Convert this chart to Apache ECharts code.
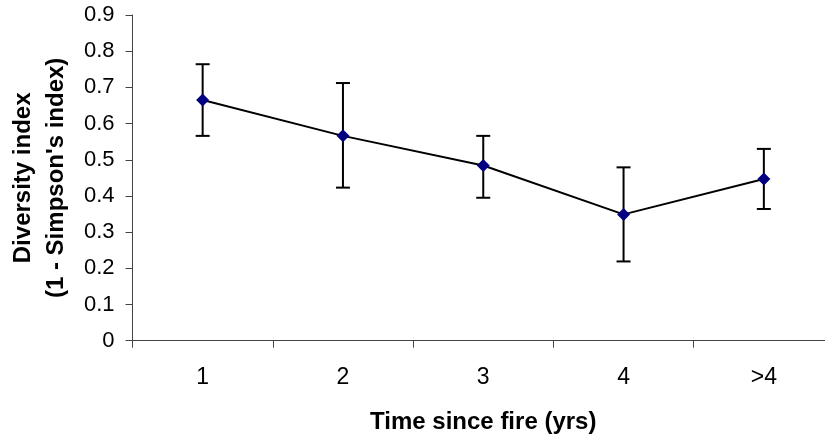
<!DOCTYPE html>
<html>
<head>
<meta charset="utf-8">
<script src="https://cdn.jsdelivr.net/npm/echarts@6/dist/echarts.min.js"></script>
<style>
html,body{margin:0;padding:0;background:#fff;}
#chart{width:825px;height:435px;}
</style>
</head>
<body>
<div id="chart"></div>
<script>
const categories = ['1', '2', '3', '4', '>4'];
const meanValues = [0.665, 0.566, 0.484, 0.349, 0.447];
const errLow = [0.566, 0.423, 0.395, 0.219, 0.364];
const errHigh = [0.764, 0.712, 0.566, 0.479, 0.530];
const yTicks = { min: 0, max: 0.9, interval: 0.1 };

const FONT = '"Liberation Sans", Arial, sans-serif';
const chart = echarts.init(document.getElementById('chart'), null, { renderer: 'canvas' });

const errData = categories.map((c, i) => [i, errLow[i], errHigh[i]]);

chart.setOption({
  animation: false,
  backgroundColor: '#ffffff',
  grid: { left: 132.5, right: -9, top: 15, bottom: 94.3, containLabel: false, outerBoundsMode: 'none' },
  xAxis: {
    type: 'category',
    data: categories,
    boundaryGap: true,
    name: 'Time since fire (yrs)',
    nameLocation: 'middle',
    nameGap: 70,
    nameTextStyle: { fontFamily: FONT, fontSize: 24, fontWeight: 'bold', color: '#000' },
    axisLine: { show: true, lineStyle: { color: '#444', width: 1 } },
    axisTick: { show: true, length: 7, alignWithLabel: false, lineStyle: { color: '#444' } },
    axisLabel: { fontFamily: FONT, fontSize: 23, color: '#000', margin: 25 },
    splitLine: { show: false }
  },
  yAxis: {
    type: 'value',
    min: yTicks.min,
    max: yTicks.max,
    interval: yTicks.interval,
    name: 'Diversity index\n(1 - Simpson\'s index)',
    nameLocation: 'middle',
    nameGap: 59,
    nameRotate: 90,
    nameTextStyle: { fontFamily: FONT, fontSize: 24, fontWeight: 'bold', color: '#000', lineHeight: 33, align: 'center' },
    axisLine: { show: true, lineStyle: { color: '#444', width: 1 } },
    axisTick: { show: true, length: 7, lineStyle: { color: '#444' } },
    axisLabel: {
      fontFamily: FONT, fontSize: 22, color: '#000', margin: 18,
      formatter: v => (Math.round(v * 10) / 10).toString()
    },
    splitLine: { show: false }
  },
  series: [
    {
      type: 'custom',
      z: 1,
      data: errData,
      renderItem: function (params, api) {
        const x = api.value(0);
        const lo = api.coord([x, api.value(1)]);
        const hi = api.coord([x, api.value(2)]);
        const hw = 7;
        const style = { stroke: '#000', lineWidth: 2 };
        return {
          type: 'group',
          children: [
            { type: 'line', shape: { x1: lo[0], y1: lo[1], x2: hi[0], y2: hi[1] }, style },
            { type: 'line', shape: { x1: hi[0] - hw, y1: hi[1], x2: hi[0] + hw, y2: hi[1] }, style },
            { type: 'line', shape: { x1: lo[0] - hw, y1: lo[1], x2: lo[0] + hw, y2: lo[1] }, style }
          ]
        };
      }
    },
    {
      type: 'line',
      z: 2,
      data: meanValues,
      symbol: 'diamond',
      symbolSize: 13,
      lineStyle: { color: '#000', width: 2 },
      itemStyle: { color: '#000080', borderWidth: 0 }
    }
  ]
});
</script>
</body>
</html>
